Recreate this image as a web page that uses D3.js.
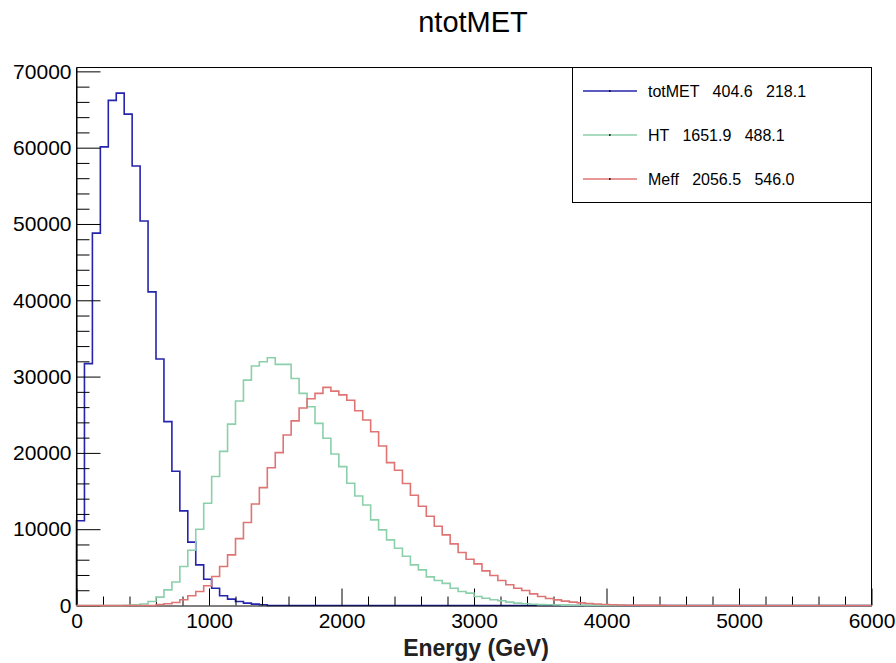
<!DOCTYPE html>
<html>
<head>
<meta charset="utf-8">
<script src="https://cdn.jsdelivr.net/npm/d3@7"></script>
<style>
  body { margin: 0; background: #fff; }
  text { font-family: "Liberation Sans", Arial, Helvetica, sans-serif; }
</style>
</head>
<body>
<div id="chart"></div>
<script>
// histogram binning: 100 bins of 60 GeV between 0 and 6000
const xMin = 0, xMax = 6000, nBins = 100;

// bin contents (bins 0..99)
const totMET = [
  11100, 31700, 48800, 60100, 66200, 67150, 64400, 57600, 50400, 41100,
  32300, 24100, 17600, 12400, 8300, 5330, 3450, 2270, 1270, 840,
  520, 310, 180, 90, 0, 0, 0, 0, 0, 0,
  0, 0, 0, 0, 0, 0, 0, 0, 0, 0,
  0, 0, 0, 0, 0, 0, 0, 0, 0, 0,
  0, 0, 0, 0, 0, 0, 0, 0, 0, 0,
  0, 0, 0, 0, 0, 0, 0, 0, 0, 0,
  0, 0, 0, 0, 0, 0, 0, 0, 0, 0,
  0, 0, 0, 0, 0, 0, 0, 0, 0, 0,
  0, 0, 0, 0, 0, 0, 0, 0, 0, 0
];
const HT = [
  0, 0, 0, 0, 0, 0, 30, 100, 200, 520,
  1100, 2050, 3080, 5110, 7250, 10000, 13400, 16900, 20200, 23770,
  26800, 29540, 31380, 31940, 32470, 31600, 31600, 29750, 27800, 26050,
  23870, 21910, 19860, 18200, 16020, 14360, 13180, 11220, 9910, 8600,
  7500, 6450, 5330, 4670, 3750, 3270, 2900, 2270, 1830, 1620,
  1180, 960, 750, 620, 440, 310, 220, 170, 120, 100,
  60, 50, 40, 30, 20, 20, 10, 10, 5, 5,
  0, 0, 0, 0, 0, 0, 0, 0, 0, 0,
  0, 0, 0, 0, 0, 0, 0, 0, 0, 0,
  0, 0, 0, 0, 0, 0, 0, 0, 0, 0
];
const Meff = [
  0, 0, 0, 0, 0, 0, 0, 0, 0, 0,
  130, 220, 400, 750, 1270, 1830, 2580, 3800, 5110, 6630,
  8760, 10870, 13310, 15450, 18050, 20030, 22340, 24200, 25880, 27100,
  27800, 28590, 28100, 27600, 26900, 25530, 24310, 22780, 20900, 18720,
  17720, 15980, 14450, 13000, 11700, 10380, 9250, 8080, 6940, 6070,
  5460, 4540, 3930, 3270, 2710, 2270, 1960, 1530, 1180, 920,
  740, 570, 440, 350, 270, 200, 130, 90, 60, 40,
  30, 20, 15, 10, 5, 5, 0, 0, 0, 0,
  0, 0, 0, 0, 0, 0, 0, 0, 0, 0,
  0, 0, 0, 0, 0, 0, 0, 0, 0, 0
];

// legend entries: name, mean, rms
const legendNames = ["totMET", "HT", "Meff"];
const legendMeans = ["404.6", "1651.9", "2056.5"];
const legendRms = ["218.1", "488.1", "546.0"];

// tick labels
const xTicks = [0, 1000, 2000, 3000, 4000, 5000, 6000];
const yTicks = [0, 10000, 20000, 30000, 40000, 50000, 60000, 70000];

const colors = ["#2424ad", "#8ccfab", "#e07474"];
const series = [totMET, HT, Meff];

// frame geometry
const W = 896, H = 663;
const frame = {left: 76.5, right: 871.5, top: 67.5, bottom: 605.5};

const svg = d3.select("#chart")
  .append("svg")
    .attr("width", W)
    .attr("height", H);

const xScale = d3.scaleLinear().domain([xMin, xMax]).range([frame.left, frame.right]);
// ROOT style: maximum is 1.05 x the highest bin
const yMax = d3.max(series, function(s) { return d3.max(s); }) * 1.05;
const yScale = d3.scaleLinear().domain([0, yMax]).range([frame.bottom, frame.top]);

const binW = (xMax - xMin) / nBins;

// step outline of a histogram
function histPoints(values) {
  const pts = [[xMin, 0]];
  values.forEach(function(v, i) {
    pts.push([xMin + i * binW, v]);
    pts.push([xMin + (i + 1) * binW, v]);
  });
  pts.push([xMax, 0]);
  return pts;
}
const line = d3.line()
  .x(function(d) { return xScale(d[0]); })
  .y(function(d) { return yScale(d[1]); });

function drawHist(i) {
  svg.append("path")
      .datum(histPoints(series[i]))
      .attr("d", line)
      .attr("fill", "none")
      .attr("stroke", colors[i])
      .attr("stroke-width", 1.6)
      .attr("stroke-linejoin", "miter");
}

// first histogram is painted before its axes (as ROOT does)
drawHist(0);

// frame top and right
svg.append("path")
    .attr("d", `M${frame.left},${frame.bottom}V${frame.top}H${frame.right}V${frame.bottom}`)
    .attr("fill", "none")
    .attr("stroke", "#000")
    .attr("stroke-width", 1);

// minor ticks
const xMinor = d3.range(xMin, xMax + 1, 200).filter(function(v) { return v % 1000 !== 0; });
const yMinor = d3.range(0, yMax, 2000).filter(function(v) { return v % 10000 !== 0; });

svg.append("g")
    .attr("transform", `translate(0, ${frame.bottom})`)
    .call(d3.axisBottom(xScale).tickValues(xMinor).tickSize(-9).tickSizeOuter(0).tickFormat(""))
    .call(function(g) { g.select(".domain").remove(); });

svg.append("g")
    .attr("transform", `translate(${frame.left}, 0)`)
    .call(d3.axisLeft(yScale).tickValues(yMinor).tickSize(-13).tickSizeOuter(0).tickFormat(""))
    .call(function(g) { g.select(".domain").remove(); });

// major ticks + labels
const xAxis = svg.append("g")
    .attr("transform", `translate(0, ${frame.bottom})`)
    .call(d3.axisBottom(xScale).tickValues(xTicks).tickSize(-17).tickSizeOuter(0).tickPadding(8).tickFormat(d3.format("d")));
xAxis.select(".domain").attr("stroke", "#000");
xAxis.selectAll("text").attr("font-size", 21).attr("fill", "#000")
    .style("font-family", '"Liberation Sans", Arial, sans-serif');

const yAxis = svg.append("g")
    .attr("transform", `translate(${frame.left}, 0)`)
    .call(d3.axisLeft(yScale).tickValues(yTicks).tickSize(-24).tickSizeOuter(0).tickPadding(5).tickFormat(d3.format("d")));
yAxis.select(".domain").attr("stroke", "#000");
yAxis.selectAll("text").attr("font-size", 21).attr("fill", "#000")
    .style("font-family", '"Liberation Sans", Arial, sans-serif');

// remaining histograms drawn "same", over the axes
drawHist(1);
drawHist(2);

// title
svg.append("text")
    .attr("x", 473)
    .attr("y", 32)
    .attr("text-anchor", "middle")
    .attr("font-size", 29)
    .attr("fill", "#000")
  .text("ntotMET");

// x axis title
svg.append("text")
    .attr("x", (frame.left + frame.right) / 2 + 2)
    .attr("y", 656)
    .attr("text-anchor", "middle")
    .attr("font-size", 23)
    .attr("font-weight", "bold")
    .attr("fill", "#222")
  .text("Energy (GeV)");

// legend
const legend = svg.append("g");
legend.append("rect")
    .attr("x", 572.5)
    .attr("y", frame.top)
    .attr("width", frame.right - 572.5)
    .attr("height", 135)
    .attr("fill", "#fff")
    .attr("stroke", "#000")
    .attr("stroke-width", 1);

const rowY = [91, 135, 179];
legendNames.forEach(function(name, i) {
  legend.append("line")
      .attr("x1", 583).attr("x2", 637)
      .attr("y1", rowY[i]).attr("y2", rowY[i])
      .attr("stroke", colors[i])
      .attr("stroke-width", 1.6);
  legend.append("rect")
      .attr("x", 609).attr("y", rowY[i] - 0.8)
      .attr("width", 1.6).attr("height", 1.6)
      .attr("fill", "#000");
  legend.append("text")
      .attr("x", 648)
      .attr("y", rowY[i])
      .attr("dy", "0.36em")
      .attr("font-size", 16)
      .attr("fill", "#000")
      .style("white-space", "pre")
    .text(`${name}   ${legendMeans[i]}   ${legendRms[i]}`);
});
</script>
</body>
</html>
